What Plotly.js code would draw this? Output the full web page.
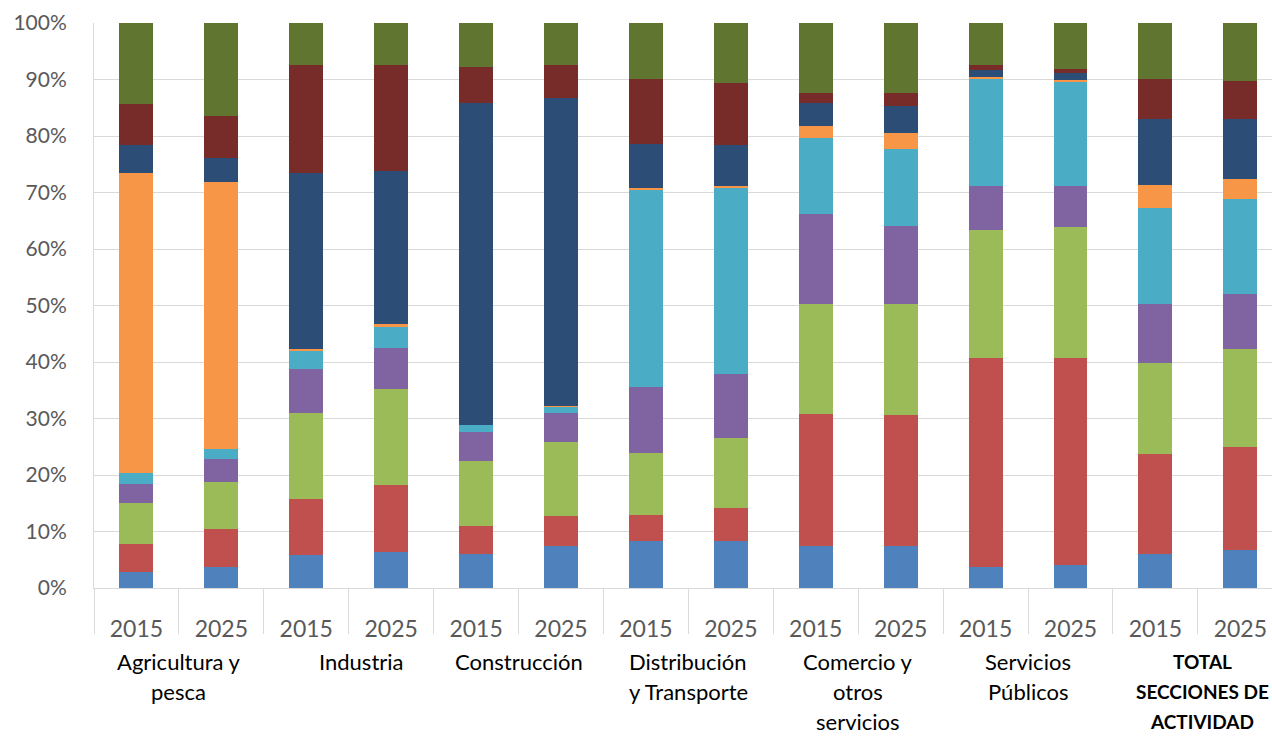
<!DOCTYPE html>
<html>
<head>
<meta charset="utf-8">
<script src="https://cdn.plot.ly/plotly-3.0.1.min.js"></script>
<style>
  html, body { margin: 0; padding: 0; background: #ffffff; }
  #chart { width: 1272px; height: 736px; }
</style>
</head>
<body>
<div id="chart"></div>
<script>
// ---- Data ----
const groups = [
  "Agricultura y<br>pesca",
  "Industria",
  "Construcción",
  "Distribución<br>y Transporte",
  "Comercio y<br>otros<br>servicios",
  "Servicios<br>Públicos",
  "TOTAL<br>SECCIONES DE<br>ACTIVIDAD"
];
const years = ["2015", "2025"];
const yTickValues = [0, 10, 20, 30, 40, 50, 60, 70, 80, 90, 100];
const yTickLabels = ["0%", "10%", "20%", "30%", "40%", "50%", "60%", "70%", "80%", "90%", "100%"];

const serie1 = [2.8, 3.7, 5.8, 6.4, 6.0, 7.5, 8.4, 8.4, 7.5, 7.5, 3.7, 4.0, 6.0, 6.7];
const serie2 = [5.0, 6.7, 9.9, 11.9, 4.9, 5.2, 4.6, 5.8, 23.4, 23.1, 37.0, 36.7, 17.7, 18.2];
const serie3 = [7.3, 8.4, 15.3, 17.0, 11.6, 13.1, 11.0, 12.4, 19.4, 19.7, 22.6, 23.2, 16.2, 17.4];
const serie4 = [3.4, 4.1, 7.9, 7.3, 5.2, 5.2, 11.6, 11.3, 15.9, 13.9, 7.9, 7.3, 10.4, 9.8];
const serie5 = [1.8, 1.7, 3.2, 3.7, 1.1, 1.1, 35.0, 32.9, 13.6, 13.6, 18.9, 18.4, 17.0, 16.8];
const serie6 = [53.2, 47.4, 0.2, 0.4, 0.1, 0.1, 0.4, 0.5, 2.0, 2.9, 0.4, 0.3, 4.1, 3.5];
const serie7 = [4.9, 4.1, 31.3, 27.1, 57.0, 54.6, 7.8, 7.1, 4.1, 4.7, 1.1, 1.2, 11.6, 10.7];
const serie8 = [7.3, 7.5, 19.1, 18.8, 6.4, 5.8, 11.5, 11.0, 1.8, 2.3, 0.9, 0.8, 7.1, 6.8];
const serie9 = [14.4, 16.5, 7.5, 7.5, 7.8, 7.5, 9.9, 10.7, 12.4, 12.4, 7.5, 8.1, 9.9, 10.2];

const seriesValues = [serie1, serie2, serie3, serie4, serie5, serie6, serie7, serie8, serie9];
const seriesNames = ["Serie 1", "Serie 2", "Serie 3", "Serie 4", "Serie 5", "Serie 6", "Serie 7", "Serie 8", "Serie 9"];
const seriesColors = ["#4F81BD", "#C0504D", "#9BBB59", "#8064A2", "#4BACC6", "#F79646", "#2C4D75", "#772C2A", "#5F7530"];

// ---- Build categories ----
const cats = [];
const catLabels = [];
groups.forEach((g, gi) => {
  years.forEach(y => {
    cats.push("g" + gi + "_" + y);
    catLabels.push(y);
  });
});

const traces = seriesValues.map((vals, i) => ({
  type: "bar",
  name: seriesNames[i],
  x: cats,
  y: vals,
  marker: { color: seriesColors[i], line: { width: 0 } },
  hoverinfo: "y+name"
}));

// Group labels, one annotation per text line (Excel-like line spacing)
const plotBottomPx = 588.3, plotHeightPx = 565, firstLinePx = 662, lineStepPx = 30;
const annotations = [];
groups.forEach((g, gi) => {
  const isTotal = gi === groups.length - 1;
  g.split("<br>").forEach((line, li) => {
    annotations.push({
      xref: "x",
      yref: "paper",
      x: gi * 2 + 0.5 + (gi === 1 ? 0.15 : 0) + (isTotal ? 0.05 : 0),
      y: (plotBottomPx - (firstLinePx + li * lineStepPx)) / plotHeightPx,
      yanchor: "middle",
      xanchor: "center",
      showarrow: false,
      text: isTotal ? "<b>" + line + "</b>" : line,
      font: { family: "Lato, 'Open Sans', sans-serif", size: isTotal ? 19 : 22, color: "#000000" }
    });
  });
});

const layout = {
  width: 1272,
  height: 736,
  margin: { l: 93.5, r: 0, t: 23.3, b: 147.7, pad: 0 },
  paper_bgcolor: "#ffffff",
  plot_bgcolor: "#ffffff",
  barmode: "stack",
  barnorm: "percent",
  bargap: 0.6,
  showlegend: false,
  xaxis: {
    type: "category",
    range: [-0.5, 13.373],
    tickmode: "array",
    tickvals: cats,
    ticktext: catLabels,
    tickson: "boundaries",
    ticks: "outside",
    ticklen: 45,
    tickwidth: 1,
    tickcolor: "#D9D9D9",
    ticklabelstandoff: 20,
    showgrid: false,
    showline: true,
    linecolor: "#D9D9D9",
    linewidth: 1,
    tickfont: { family: "Lato, 'Open Sans', sans-serif", size: 23, color: "#595959" },
    fixedrange: true
  },
  yaxis: {
    range: [0, 100],
    tickmode: "array",
    tickvals: yTickValues,
    ticktext: yTickLabels,
    showgrid: true,
    gridcolor: "#D9D9D9",
    gridwidth: 1,
    zeroline: false,
    showline: true,
    linecolor: "#D9D9D9",
    linewidth: 1,
    ticks: "",
    ticklabelstandoff: 22,
    tickfont: { family: "Lato, 'Open Sans', sans-serif", size: 21, color: "#595959" },
    fixedrange: true
  },
  annotations: annotations
};

Plotly.newPlot("chart", traces, layout, { displayModeBar: false, staticPlot: true });
</script>
</body>
</html>
